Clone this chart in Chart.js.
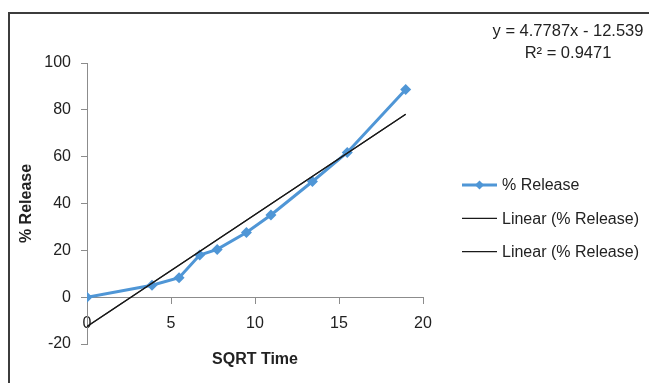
<!DOCTYPE html>
<html>
<head>
<meta charset="utf-8">
<script src="https://cdn.jsdelivr.net/npm/chart.js@4"></script>
<style>
  html, body { margin: 0; padding: 0; background: #fff; overflow: hidden; }
  #wrap { position: relative; width: 649px; height: 383px; }
  #frame { position: absolute; left: 8px; top: 12px; right: -10px; bottom: -10px; border: 2px solid #3c3c3c; }
  canvas { position: absolute; left: 0; top: 0; }
</style>
</head>
<body>
<div id="wrap">
  <div id="frame"></div>
  <canvas id="chart" width="649" height="383"></canvas>
</div>
<script>
// ── Data ──
const sqrtTime = [0, 3.87, 5.48, 6.71, 7.75, 9.49, 10.95, 13.42, 15.49, 18.97];
const releasePct = [0, 5.1, 8.3, 18.0, 20.4, 27.6, 35.1, 49.4, 61.8, 88.7];

const xTicks = [0, 5, 10, 15, 20];
const yTicks = [-20, 0, 20, 40, 60, 80, 100];

// trendline from the Excel label
const trendSlope = 4.7787;
const trendIntercept = -12.539;
const trendLabel = ['y = 4.7787x - 12.539', 'R\u00B2 = 0.9471'];

const seriesNames = ['% Release', 'Linear (% Release)', 'Linear (% Release)'];

const BLUE = '#4F96D6';
const INK = '#222222';
const AXIS = '#8c8c8c';
const FONT = '"Liberation Sans", Arial, sans-serif';

// ── Build points ──
const points = sqrtTime.map((x, i) => ({ x, y: releasePct[i] }));
const trendX = [sqrtTime[0], sqrtTime[sqrtTime.length - 1]];
const trendPts = trendX.map(x => ({ x, y: trendSlope * x + trendIntercept }));

// ── Legend + equation drawn on the canvas ──
const extrasPlugin = {
  id: 'extras',
  afterDraw(chart) {
    const ctx = chart.ctx;
    ctx.save();
    ctx.fillStyle = INK;
    ctx.textBaseline = 'middle';

    // equation label
    ctx.font = '16.5px ' + FONT;
    ctx.textAlign = 'center';
    ctx.fillText(trendLabel[0], 568, 31);
    ctx.fillText(trendLabel[1], 568, 53);

    // legend
    ctx.font = '16px ' + FONT;
    ctx.textAlign = 'left';
    chart.data.datasets.forEach((ds, i) => {
      const y = 185 + i * 33.3;
      ctx.strokeStyle = ds.borderColor;
      ctx.lineWidth = ds.borderWidth;
      ctx.beginPath();
      ctx.moveTo(462, y);
      ctx.lineTo(497, y);
      ctx.stroke();
      if (ds.pointRadius > 0) {
        const r = 4.5;
        ctx.fillStyle = ds.backgroundColor;
        ctx.beginPath();
        ctx.moveTo(479.5, y - r);
        ctx.lineTo(479.5 + r, y);
        ctx.lineTo(479.5, y + r);
        ctx.lineTo(479.5 - r, y);
        ctx.closePath();
        ctx.fill();
      }
      ctx.fillStyle = INK;
      ctx.fillText(seriesNames[i], 502, y + 1);
    });
    ctx.restore();
  }
};

const trendDataset = (label) => ({
  label,
  data: trendPts,
  showLine: true,
  borderColor: '#1a1a1a',
  backgroundColor: '#1a1a1a',
  borderWidth: 1.2,
  pointRadius: 0,
  order: 0,
});

new Chart(document.getElementById('chart').getContext('2d'), {
  type: 'scatter',
  data: {
    datasets: [
      {
        label: seriesNames[0],
        data: points,
        showLine: true,
        borderColor: BLUE,
        backgroundColor: BLUE,
        borderWidth: 3,
        pointStyle: 'rectRot',
        pointRadius: 5.5,
        pointBorderWidth: 0,
        order: 1,
      },
      trendDataset(seriesNames[1]),
      trendDataset(seriesNames[2]),
    ]
  },
  options: {
    responsive: false,
    animation: false,
    devicePixelRatio: 1,
    layout: { padding: { left: 0, top: 63, right: 226, bottom: 0 } },
    plugins: {
      legend: { display: false },
      tooltip: { enabled: false },
    },
    scales: {
      x: {
        type: 'linear',
        position: { y: 0 },
        min: xTicks[0],
        max: xTicks[xTicks.length - 1],
        afterBuildTicks: s => { s.ticks = xTicks.map(v => ({ value: v })); },
        ticks: { font: { family: FONT, size: 16 }, color: INK, padding: 11, maxRotation: 0 },
        grid: { drawOnChartArea: false, tickLength: 6, color: AXIS },
        border: { color: AXIS, width: 1 },
      },
      y: {
        type: 'linear',
        position: 'left',
        min: yTicks[0],
        max: yTicks[yTicks.length - 1],
        afterBuildTicks: s => { s.ticks = yTicks.map(v => ({ value: v })); },
        ticks: { font: { family: FONT, size: 16 }, color: INK, padding: 10 },
        grid: { drawOnChartArea: false, tickLength: 6, color: AXIS },
        border: { color: AXIS, width: 1 },
        title: {
          display: true, text: seriesNames[0], color: INK,
          font: { family: FONT, size: 16, weight: 'bold' },
          padding: { top: 17, bottom: 0 },
        },
        afterFit: s => { s.width = 87; },
      },
      xTitle: {
        type: 'linear',
        position: 'bottom',
        min: 0,
        max: 20,
        ticks: { display: false },
        grid: { display: false },
        border: { display: false },
        title: {
          display: true, text: 'SQRT Time', color: INK,
          font: { family: FONT, size: 16, weight: 'bold' },
          padding: { top: 0, bottom: 14 },
        },
        afterFit: s => { s.height = 39; },
      }
    }
  },
  plugins: [extrasPlugin]
});
</script>
</body>
</html>
